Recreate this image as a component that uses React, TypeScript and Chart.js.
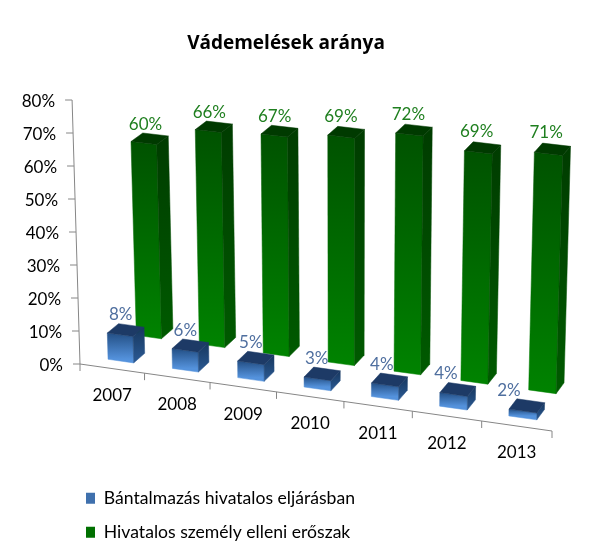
import React, { useEffect, useRef } from "react";
import { Chart, registerables } from "chart.js";

Chart.register(...registerables);

const years = ["2007", "2008", "2009", "2010", "2011", "2012", "2013"];
const abuseValues = [8, 6, 5, 3, 4, 4, 2];
const violenceValues = [60, 66, 67, 69, 72, 69, 71];
const yTickStep = 10;
const yMax = 80;

const FONT = "Lato, 'Open Sans', sans-serif";

// Perspective view of the plot: u along categories, v up the value axis, w into depth
const warp = (u: number) => u - 0.05 * u * (1 - u);
function project(u: number, v: number, w: number): [number, number] {
  const U = warp(u);
  const gx = 80 + 472 * U + w * (49.5 - 17 * u);
  const gy = 364 + 67 * U + w * (-41.2 - 4.1 * u);
  const H = 264 - 8 * w + 11 * u;
  return [gx + v * (-0.03 + 0.06 * u) * H, gy - v * H];
}

const looks = [
  {
    w0: 0.18, w1: 0.41, frontTop: "#234f85", frontBottom: "#5492dc", sideTop: "#17375e", sideBottom: "#2b5a94", top: "#1d3a66", label: "#4f6f9f",
    labelDx: (u: number) => -5 - 46 * Math.max(0, u - 0.4) ** 2,
    labelDy: (_u: number) => -15.5,
  },
  {
    w0: 0.76, w1: 1, frontTop: "#005200", frontBottom: "#008200", sideTop: "#003c00", sideBottom: "#005a00", top: "#003a00", label: "#1f7f1f",
    labelDx: (u: number) => -4 - 2.5 * u,
    labelDy: (u: number) => -14 - 3 * u,
  },
];

function poly(ctx: CanvasRenderingContext2D, pts: [number, number][], fill: string | CanvasGradient) {
  ctx.beginPath();
  pts.forEach((p, i) => (i ? ctx.lineTo(p[0], p[1]) : ctx.moveTo(p[0], p[1])));
  ctx.closePath();
  ctx.fillStyle = fill;
  ctx.fill();
  ctx.strokeStyle = fill;
  ctx.lineWidth = 0.5;
  ctx.stroke();
}

const scene3d = {
  id: "scene3d",
  afterLayout(chart: any) {
    const l = chart.legend;
    const w = l.width;
    const h = l.height;
    l.left = 86 - l.options.labels.padding;
    l.right = l.left + w;
    l.top = 473;
    l.bottom = l.top + h;
  },
  beforeDatasetsDraw(chart: any) {
    const { ctx, chartArea: a, scales } = chart;
    const toU = (px: number) => (px - a.left) / (a.right - a.left);
    const toV = (py: number) => (a.bottom - py) / (a.bottom - a.top);
    const x = scales.x;
    const y = scales.y;
    ctx.save();

    // axes
    ctx.strokeStyle = "#868686";
    ctx.lineWidth = 1;
    const seg = (p: [number, number], q: [number, number]) => {
      ctx.beginPath();
      ctx.moveTo(p[0], p[1]);
      ctx.lineTo(q[0], q[1]);
      ctx.stroke();
    };
    seg(project(0, 0, 0), project(0, 1, 0));
    seg(project(0, 0, 0), project(1, 0, 0));

    ctx.fillStyle = "#000";
    ctx.font = `17px ${FONT}`;
    ctx.textBaseline = "middle";
    ctx.textAlign = "right";
    y.ticks.forEach((t: any) => {
      const p = project(0, toV(y.getPixelForValue(t.value)), 0);
      seg([p[0] - 7, p[1]], p);
      ctx.fillStyle = "#000";
      ctx.fillText(t.label, p[0] - 17, p[1] + 2);
    });
    ctx.textAlign = "center";
    x.ticks.forEach((t: any, i: number) => {
      const p0 = project(toU(x.getPixelForValue(i - 0.5)), 0, 0);
      seg(p0, [p0[0], p0[1] + 7]);
      const p = project(toU(x.getPixelForValue(i)), 0, 0);
      ctx.fillText(t.label, p[0], p[1] + 27);
      if (i === x.ticks.length - 1) {
        const p1 = project(toU(x.getPixelForValue(i + 0.5)), 0, 0);
        seg(p1, [p1[0], p1[1] + 7]);
      }
    });

    // boxes: back row first
    const labels: { text: string; x: number; y: number; color: string }[] = [];
    for (const ds of [1, 0]) {
      const look = looks[ds];
      chart.getDatasetMeta(ds).data.forEach((bar: any, j: number) => {
        const c = toU(bar.x);
        const hw = (bar.width / (a.right - a.left)) / 2;
        const u0 = c - hw;
        const u1 = c + hw;
        const v = toV(bar.y);
        const { w0, w1 } = look;
        const fbl = project(u0, 0, w0), fbr = project(u1, 0, w0);
        const ftl = project(u0, v, w0), ftr = project(u1, v, w0);
        const bbr = project(u1, 0, w1), btr = project(u1, v, w1), btl = project(u0, v, w1);
        const gf = ctx.createLinearGradient(0, ftl[1], 0, fbl[1]);
        gf.addColorStop(0, look.frontTop);
        gf.addColorStop(1, look.frontBottom);
        const gs = ctx.createLinearGradient(0, btr[1], 0, fbr[1]);
        gs.addColorStop(0, look.sideTop);
        gs.addColorStop(1, look.sideBottom);
        poly(ctx, [fbl, fbr, ftr, ftl], gf);
        poly(ctx, [fbr, bbr, btr, ftr], gs);
        poly(ctx, [ftl, ftr, btr, btl], look.top);
        const top = project(c, v, (w0 + w1) / 2);
        labels.push({
          text: chart.data.datasets[ds].data[j] + "%",
          x: top[0] + look.labelDx(c),
          y: top[1] + look.labelDy(c),
          color: look.label,
        });
      });
    }
    ctx.font = `17px ${FONT}`;
    ctx.textAlign = "center";
    ctx.textBaseline = "middle";
    labels.forEach((l) => {
      ctx.fillStyle = l.color;
      ctx.fillText(l.text, l.x, l.y);
    });
    ctx.restore();
    return false;
  },
};

export default function App() {
  const ref = useRef<HTMLCanvasElement>(null);
  useEffect(() => {
    const chart = new Chart(ref.current!, {
      type: "bar",
      data: {
        labels: years,
        datasets: [
          { label: "Bántalmazás hivatalos eljárásban", data: abuseValues, backgroundColor: "#3f70ad", borderWidth: 0, grouped: false, barPercentage: 0.4, categoryPercentage: 1 },
          { label: "Hivatalos személy elleni erőszak", data: violenceValues, backgroundColor: "#007000", borderWidth: 0, grouped: false, barPercentage: 0.4, categoryPercentage: 1 },
        ],
      },
      options: {
        responsive: false,
        animation: false,
        devicePixelRatio: 1,
        layout: { padding: { left: 80, right: 103, top: 0, bottom: 90 } },
        scales: {
          x: { display: false, offset: true },
          y: { display: false, min: 0, max: yMax, ticks: { stepSize: yTickStep, callback: (v: any) => v + "%" } },
        },
        plugins: {
          tooltip: { enabled: false },
          title: {
            display: true,
            text: "Vádemelések aránya",
            color: "#000",
            fullSize: false,
            font: { family: "'Open Sans', sans-serif", size: 19, weight: "bold" },
            padding: { top: 32, bottom: 37 },
          },
          legend: {
            position: "bottom",
            align: "start",
            maxWidth: 340,
            labels: {
              color: "#000",
              font: { family: FONT, size: 17.6 },
              boxWidth: 9,
              boxHeight: 11,
              padding: 16.4,
            },
          },
        },
      },
      plugins: [scene3d],
    } as any);
    return () => chart.destroy();
  }, []);
  return (
    <div style={{ position: "absolute", left: 0, top: 0 }}>
      <canvas ref={ref} width={595} height={559} style={{ display: "block" }} />
    </div>
  );
}
